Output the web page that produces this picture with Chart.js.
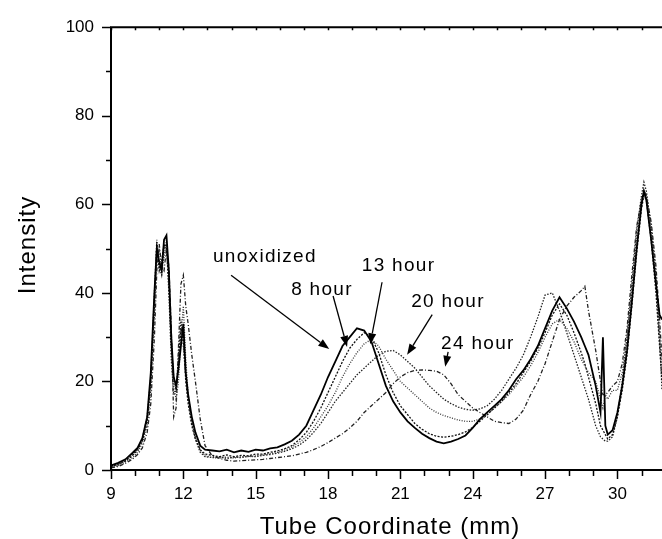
<!DOCTYPE html>
<html><head><meta charset="utf-8">
<script src="https://cdn.jsdelivr.net/npm/chart.js@4/dist/chart.umd.min.js"></script>
<style>html,body{margin:0;padding:0;background:#fff}canvas{display:block}</style>
</head><body>
<canvas id="c" width="662" height="539"></canvas>
<script>
// Tube coordinate (mm)
const xs = [
  9.0, 9.3, 9.6, 9.9, 10.1, 10.3, 10.5, 10.65, 10.8, 10.9,
  11.0, 11.1, 11.2, 11.3, 11.4, 11.5, 11.6, 11.7, 11.8, 11.9,
  12.0, 12.1, 12.2, 12.35, 12.5, 12.7, 12.9, 13.2, 13.5, 13.8,
  14.1, 14.4, 14.7, 15.0, 15.3, 15.6, 15.9, 16.2, 16.5, 16.8,
  17.1, 17.4, 17.7, 18.0, 18.3, 18.6, 18.9, 19.2, 19.5, 19.8,
  20.1, 20.4, 20.7, 21.0, 21.3, 21.6, 21.9, 22.2, 22.5, 22.8,
  23.1, 23.4, 23.7, 24.0, 24.3, 24.6, 24.9, 25.2, 25.5, 25.8,
  26.1, 26.4, 26.7, 27.0, 27.3, 27.6, 27.9, 28.2, 28.5, 28.65,
  28.8, 29.1, 29.3, 29.4, 29.5, 29.6, 29.8, 30.0, 30.2, 30.4,
  30.6, 30.8, 31.0, 31.1, 31.2, 31.4, 31.6, 31.75, 31.85
];
const unoxidized = [
  1.0, 1.6, 2.4, 3.9, 5.0, 7.2, 12, 22, 40, 50,
  47, 45, 52, 53, 45, 30, 21, 19, 23, 28,
  33, 22, 17, 12, 8.5, 5.5, 4.6, 4.4, 4.2, 4.6,
  4.0, 4.4, 4.1, 4.6, 4.4, 4.9, 5.1, 5.8, 6.6, 8.0,
  10, 13.5, 17, 21, 24.5, 28, 30, 32, 31.5, 29,
  24, 19, 15.5, 13, 11, 9.5, 8.2, 7.2, 6.4, 6.0,
  6.4, 7.0, 7.8, 9.5, 11.5, 13, 14.5, 16, 18, 20.5,
  22.5, 25, 28, 32, 36, 39, 36.5, 33.5, 30, 28,
  26, 19, 13, 30, 10, 8, 9, 13, 19, 27,
  38, 50, 60, 63, 61, 52, 42, 35, 34
];
const hour8 = [
  0.8, 1.3, 2.0, 3.3, 4.5, 6.5, 11, 20, 38, 51,
  45, 47, 51, 50, 42, 28, 21, 18, 24, 32,
  30, 20, 15, 10, 7, 4.6, 3.6, 3.3, 3.0, 3.4,
  3.0, 3.3, 3.2, 3.6, 3.6, 4.0, 4.3, 4.8, 5.5, 6.8,
  8.5, 11, 14, 17.5, 21, 24.5, 27.5, 29.5, 31, 30,
  26.5, 21.5, 17.5, 14.5, 12.5, 10.5, 9.2, 8.2, 7.6, 7.4,
  7.6, 8.0, 8.6, 9.6, 11, 12.5, 14, 15.5, 17.5, 19.5,
  22, 24.5, 27.5, 31, 35, 37.5, 35, 31, 26.5, 24,
  21, 15, 10, 9, 8, 7, 8, 12, 18, 26,
  37, 49, 59, 62, 61, 52, 40, 28, 20
];
const hour13 = [
  0.6, 1.0, 1.8, 2.8, 4.0, 6.0, 10, 18, 35, 48,
  50, 45, 48, 52, 44, 30, 19, 16, 20, 30,
  37, 25, 17, 11, 7.5, 4.5, 3.2, 2.8, 2.7, 2.9,
  2.7, 3.0, 3.0, 3.2, 3.4, 3.7, 4.0, 4.5, 5.2, 6.2,
  7.5, 9.5, 12, 14.5, 17.5, 21, 24, 26.5, 28.5, 29.5,
  28, 25, 22.5, 20, 18.5, 17, 15.5, 14, 13, 12.3,
  11.8, 11.3, 11, 11, 11.5, 12.5, 14, 15.5, 17, 19,
  21, 23.5, 26.5, 30, 33, 34, 32, 29, 25, 23.5,
  22, 20, 16, 14, 17, 16, 18, 18, 22, 30,
  40, 52, 60, 63, 62, 54, 42, 30, 22
];
const hour20 = [
  0.8, 1.2, 2.2, 3.5, 4.8, 7.0, 12, 21, 40, 52,
  46, 44, 50, 51, 40, 25, 17, 18, 26, 34,
  28, 21, 16, 11, 7, 4, 3, 2.8, 3.0, 2.6,
  2.9, 2.8, 3.1, 3.0, 3.3, 3.5, 3.8, 4.2, 4.8, 5.6,
  6.8, 8.5, 10.5, 13, 15.5, 17.5, 19.5, 21.5, 23, 24.5,
  26, 26.8, 27, 26, 24.5, 23, 21, 19, 17.5, 16,
  15, 14.2, 13.7, 13.5, 13.8, 14.5, 16, 18, 20.5, 23,
  26, 30, 34.5, 39.5, 40, 36, 31, 26, 21, 18.5,
  16, 10, 7.5, 7, 6.5, 6.5, 7.5, 12, 20, 30,
  42, 54, 62, 65, 63, 55, 44, 30, 18
];
const hour24 = [
  0.5, 0.8, 1.5, 2.5, 3.5, 5, 8.5, 15, 30, 45,
  51, 46, 45, 50, 46, 32, 12, 14, 28, 42,
  44, 37, 33, 26, 20, 11.5, 5.5, 3.2, 2.6, 2.2,
  2.0, 2.1, 2.2, 2.3, 2.4, 2.6, 2.8, 3.0, 3.2, 3.6,
  4.0, 4.6, 5.3, 6.2, 7.2, 8.2, 9.5, 11, 13, 14.5,
  16, 17.5, 19.5, 21, 22, 22.5, 22.6, 22.5, 22.3, 21.5,
  19.5, 17, 15.5, 14, 13, 12, 11, 10.7, 10.5, 11.5,
  13.5, 17, 20, 24, 29, 34, 37, 39, 40.5, 41.5,
  36, 27, 20, 17, 17, 17.5, 19, 20, 24, 32,
  44, 55, 61, 63, 62, 56, 46, 34, 25
];
const seriesNames = ['unoxidized', '8 hour', '13 hour', '20 hour', '24 hour'];
const xMajorTicks = [9, 12, 15, 18, 21, 24, 27, 30];
const yMajorTicks = [0, 20, 40, 60, 80, 100];
const xTitle = 'Tube Coordinate (mm)';
const yTitle = 'Intensity';

// annotation placement (data units): text anchor, arrow start, arrow tip
const notes = [
  {text: seriesNames[0], tx: 13.23, ty: 46.9, ax: 13.98, ay: 44.0, bx: 18.05, by: 27.3},
  {text: seriesNames[1], tx: 16.47, ty: 39.6, ax: 18.21, ay: 39.3, bx: 18.79, by: 27.8},
  {text: seriesNames[2], tx: 19.40, ty: 45.0, ax: 20.24, ay: 42.4, bx: 19.75, by: 28.4},
  {text: seriesNames[3], tx: 21.45, ty: 36.9, ax: 22.32, ay: 35.1, bx: 21.28, by: 26.0},
  {text: seriesNames[4], tx: 22.69, ty: 27.3, ax: 22.98, ay: 26.7, bx: 22.86, by: 23.3}
];

const FONT = '"Liberation Sans", Arial, Helvetica, sans-serif';

function pts(ys){ return xs.map((x,i)=>({x:x, y:ys[i]})); }

const styles = [
  {color:'#000', width:1.8, dash:[]},
  {color:'#111', width:1.3, dash:[2,1.5]},
  {color:'#333', width:1.3, dash:[1,1.5]},
  {color:'#222', width:1.3, dash:[1.5,1.5]},
  {color:'#222', width:1.3, dash:[4,2,1,2]}
];
const allSeries = [unoxidized, hour8, hour13, hour20, hour24];

const decor = {
  id: 'decor',
  afterDraw(chart){
    const ctx = chart.ctx, xs_ = chart.scales.x, ys_ = chart.scales.y;
    const L = chart.chartArea.left, R = chart.chartArea.right, T = chart.chartArea.top, B = chart.chartArea.bottom;
    ctx.save();
    ctx.strokeStyle = '#000'; ctx.fillStyle = '#000';
    ctx.lineWidth = 2;
    ctx.beginPath();
    ctx.moveTo(L, T); ctx.lineTo(L, B + 1); ctx.moveTo(L - 1, B); ctx.lineTo(R, B);
    ctx.moveTo(L - 1, T); ctx.lineTo(R, T);
    ctx.stroke();
    ctx.lineWidth = 1.5;
    ctx.beginPath();
    for (let v = 9; v <= 31; v++) {
      const px = Math.round(xs_.getPixelForValue(v)) + 0.5;
      const major = (v - 9) % 3 === 0;
      ctx.moveTo(px, B); ctx.lineTo(px, B + (major ? 9 : 6));
      ctx.moveTo(px, T); ctx.lineTo(px, T + 3);
    }
    for (let v = 0; v <= 100; v += 10) {
      const py = Math.round(ys_.getPixelForValue(v)) + 0.5;
      const major = v % 20 === 0;
      ctx.moveTo(L, py); ctx.lineTo(L - (major ? 9 : 5), py);
    }
    ctx.stroke();

    // axis titles
    ctx.font = '24px ' + FONT;
    try { ctx.letterSpacing = '1px'; } catch(e) {}
    ctx.textAlign = 'center'; ctx.textBaseline = 'alphabetic';
    ctx.fillText(xTitle, 390, 534);
    ctx.save();
    ctx.translate(35, 245); ctx.rotate(-Math.PI/2);
    ctx.fillText(yTitle, 0, 0);
    ctx.restore();

    // annotations
    ctx.font = '19px ' + FONT;
    try { ctx.letterSpacing = '1.3px'; } catch(e) {}
    ctx.textAlign = 'left';
    ctx.lineWidth = 1.3;
    notes.forEach(n => {
      ctx.fillText(n.text, xs_.getPixelForValue(n.tx), ys_.getPixelForValue(n.ty));
      const ax = xs_.getPixelForValue(n.ax), ay = ys_.getPixelForValue(n.ay);
      const bx = xs_.getPixelForValue(n.bx), by = ys_.getPixelForValue(n.by);
      const ang = Math.atan2(by - ay, bx - ax);
      const hl = 11, hw = 4;
      const cx = bx - hl * Math.cos(ang), cy = by - hl * Math.sin(ang);
      ctx.beginPath(); ctx.moveTo(ax, ay); ctx.lineTo(cx, cy); ctx.stroke();
      ctx.beginPath();
      ctx.moveTo(bx, by);
      ctx.lineTo(cx + hw * Math.sin(ang), cy - hw * Math.cos(ang));
      ctx.lineTo(cx - hw * Math.sin(ang), cy + hw * Math.cos(ang));
      ctx.closePath(); ctx.fill();
    });
    ctx.restore();
  }
};

new Chart(document.getElementById('c'), {
  type: 'line',
  data: {
    datasets: allSeries.map((s, i) => ({
      label: seriesNames[i],
      data: pts(s),
      borderColor: styles[i].color,
      borderWidth: styles[i].width,
      borderDash: styles[i].dash,
      pointRadius: 0,
      tension: 0,
      fill: false
    }))
  },
  options: {
    responsive: false,
    animation: false,
    devicePixelRatio: 1,
    layout: {padding: {left: 0, right: 0, top: 20, bottom: 0}},
    plugins: {legend: {display: false}, tooltip: {enabled: false}},
    scales: {
      x: {
        type: 'linear', min: 9, max: 31.85,
        afterFit(s){ s.height = 69; },
        afterBuildTicks(s){ s.ticks = xMajorTicks.map(v => ({value: v})); },
        grid: {display: false, drawTicks: false},
        border: {display: false},
        ticks: {font: {family: FONT, size: 17}, color: '#000', padding: 14, maxRotation: 0, autoSkip: false}
      },
      y: {
        type: 'linear', min: 0, max: 100,
        afterFit(s){ s.width = 111; },
        afterBuildTicks(s){ s.ticks = yMajorTicks.map(v => ({value: v})); },
        grid: {display: false, drawTicks: false},
        border: {display: false},
        ticks: {font: {family: FONT, size: 17}, color: '#000', padding: 17}
      }
    }
  },
  plugins: [decor]
});
</script>
</body></html>
